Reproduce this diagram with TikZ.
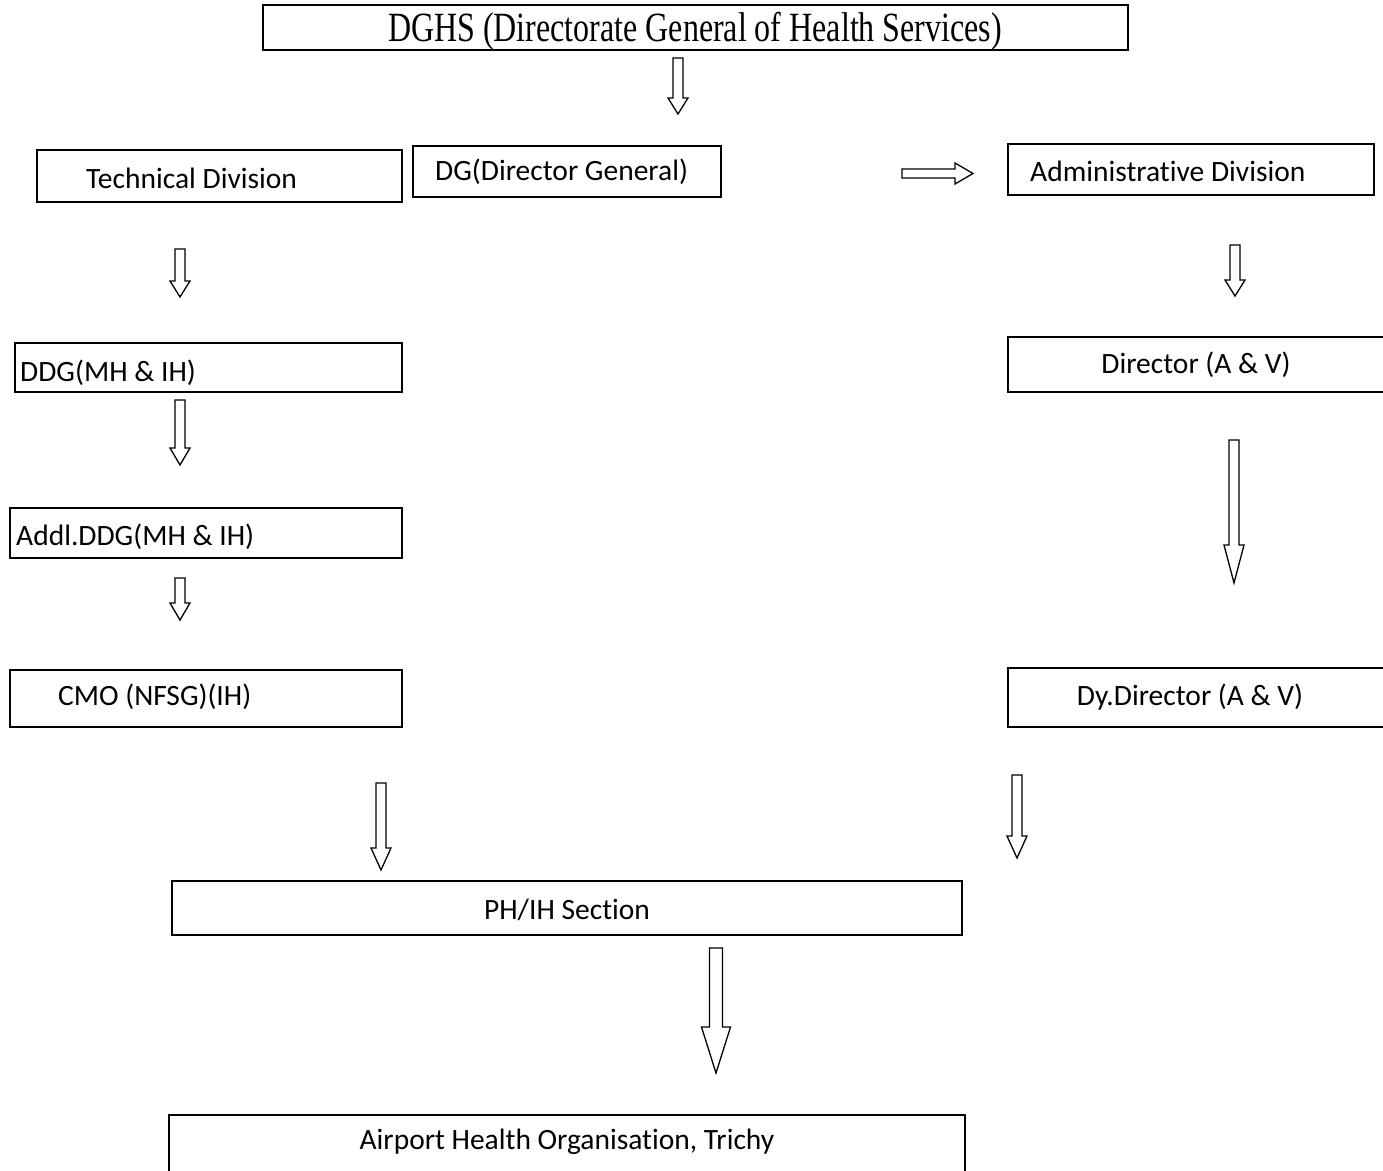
\documentclass[tikz,border=0pt]{standalone}
\usepackage{fontspec}
\setmainfont[Ligatures=NoCommon]{Carlito}
\newfontfamily\timesf{Liberation Serif}
\usetikzlibrary{fit}
\tikzset{
  box/.style={draw, line width=1.6pt, inner sep=0pt, rectangle},
  lbl/.style={inner sep=0pt, font=\fontsize{29.5}{32}\selectfont},
  blk/.style={draw, line width=1.3pt, fill=white, line join=miter},
}
% #1 x, #2 top y, #3 head start y, #4 tip y, #5 shaft half width, #6 head half width
\newcommand\downblk[6]{%
  \draw[blk] ({#1-#5},#2) -- ({#1+#5},#2) -- ({#1+#5},#3) -- ({#1+#6},#3) -- (#1,#4)
    -- ({#1-#6},#3) -- ({#1-#5},#3) -- cycle;}
\begin{document}
\begin{tikzpicture}[x=1pt,y=-1pt]
\useasboundingbox (0,0) rectangle (1383,1170);
\clip (0,0) rectangle (1383,1170);
% boxes
\node[box, fit={(263,5) (1128,50)}] (dghs) {};
\node[box, fit={(37,150) (402,202)}] (tech) {};
\node[box, fit={(413,146) (721,197)}] (dg) {};
\node[box, fit={(1008,144) (1374,195)}] (admin) {};
\node[box, fit={(15,343) (402,392)}] (ddg) {};
\node[box, fit={(1008,337) (1392,392)}] (dirav) {};
\node[box, fit={(10,508) (402,558)}] (addl) {};
\node[box, fit={(10,670) (402,727)}] (cmo) {};
\node[box, fit={(1008,668) (1392,727)}] (dydir) {};
\node[box, fit={(172,881) (962,935)}] (ph) {};
\node[box, fit={(169,1115) (965,1185)}] (airport) {};
% labels
\node[inner sep=0pt] (dghst) at (695,31) {\timesf\fontsize{32}{36}\selectfont\scalebox{1}[1.3]{DGHS (Directorate General of Health Services)}};
\node[lbl, anchor=west] (techt) at (86,178) {Technical Division};
\node[lbl, anchor=west] (dgt) at (435,172) {DG(Director General)};
\node[lbl, anchor=west] (admint) at (1030,171) {Administrative Division};
\node[lbl, anchor=west] (ddgt) at (20,373) {DDG(MH \& IH)};
\node[lbl] (diravt) at (1196,365) {Director (A \& V)};
\node[lbl, anchor=west] (addlt) at (16,537) {Addl.DDG(MH \& IH)};
\node[lbl, anchor=west] (cmot) at (58,697) {CMO (NFSG)(IH)};
\node[lbl] (dydirt) at (1190,697) {Dy.Director (A \& V)};
\node[lbl] (pht) at (567,910) {PH/IH Section};
\node[lbl] (airportt) at (567,1142) {Airport Health Organisation, Trichy};
% block arrows
\downblk{678}{58}{98}{114}{5}{10}
\draw[blk] (902,169) -- (955,169) -- (955,163) -- (973,173.5) -- (955,184) -- (955,178) -- (902,178) -- cycle;
\downblk{180}{249}{281}{297}{5}{10}
\downblk{1235}{245}{280}{296}{5}{10}
\downblk{180}{400}{448}{465}{5}{10}
\downblk{1234}{440}{545}{583}{5}{10}
\downblk{180}{578}{603}{620}{5}{10}
\downblk{381}{783}{848}{870}{5}{10}
\downblk{1017}{775}{836}{858}{5}{10}
\downblk{716}{948}{1027}{1073}{6.5}{14.5}
\end{tikzpicture}
\end{document}
